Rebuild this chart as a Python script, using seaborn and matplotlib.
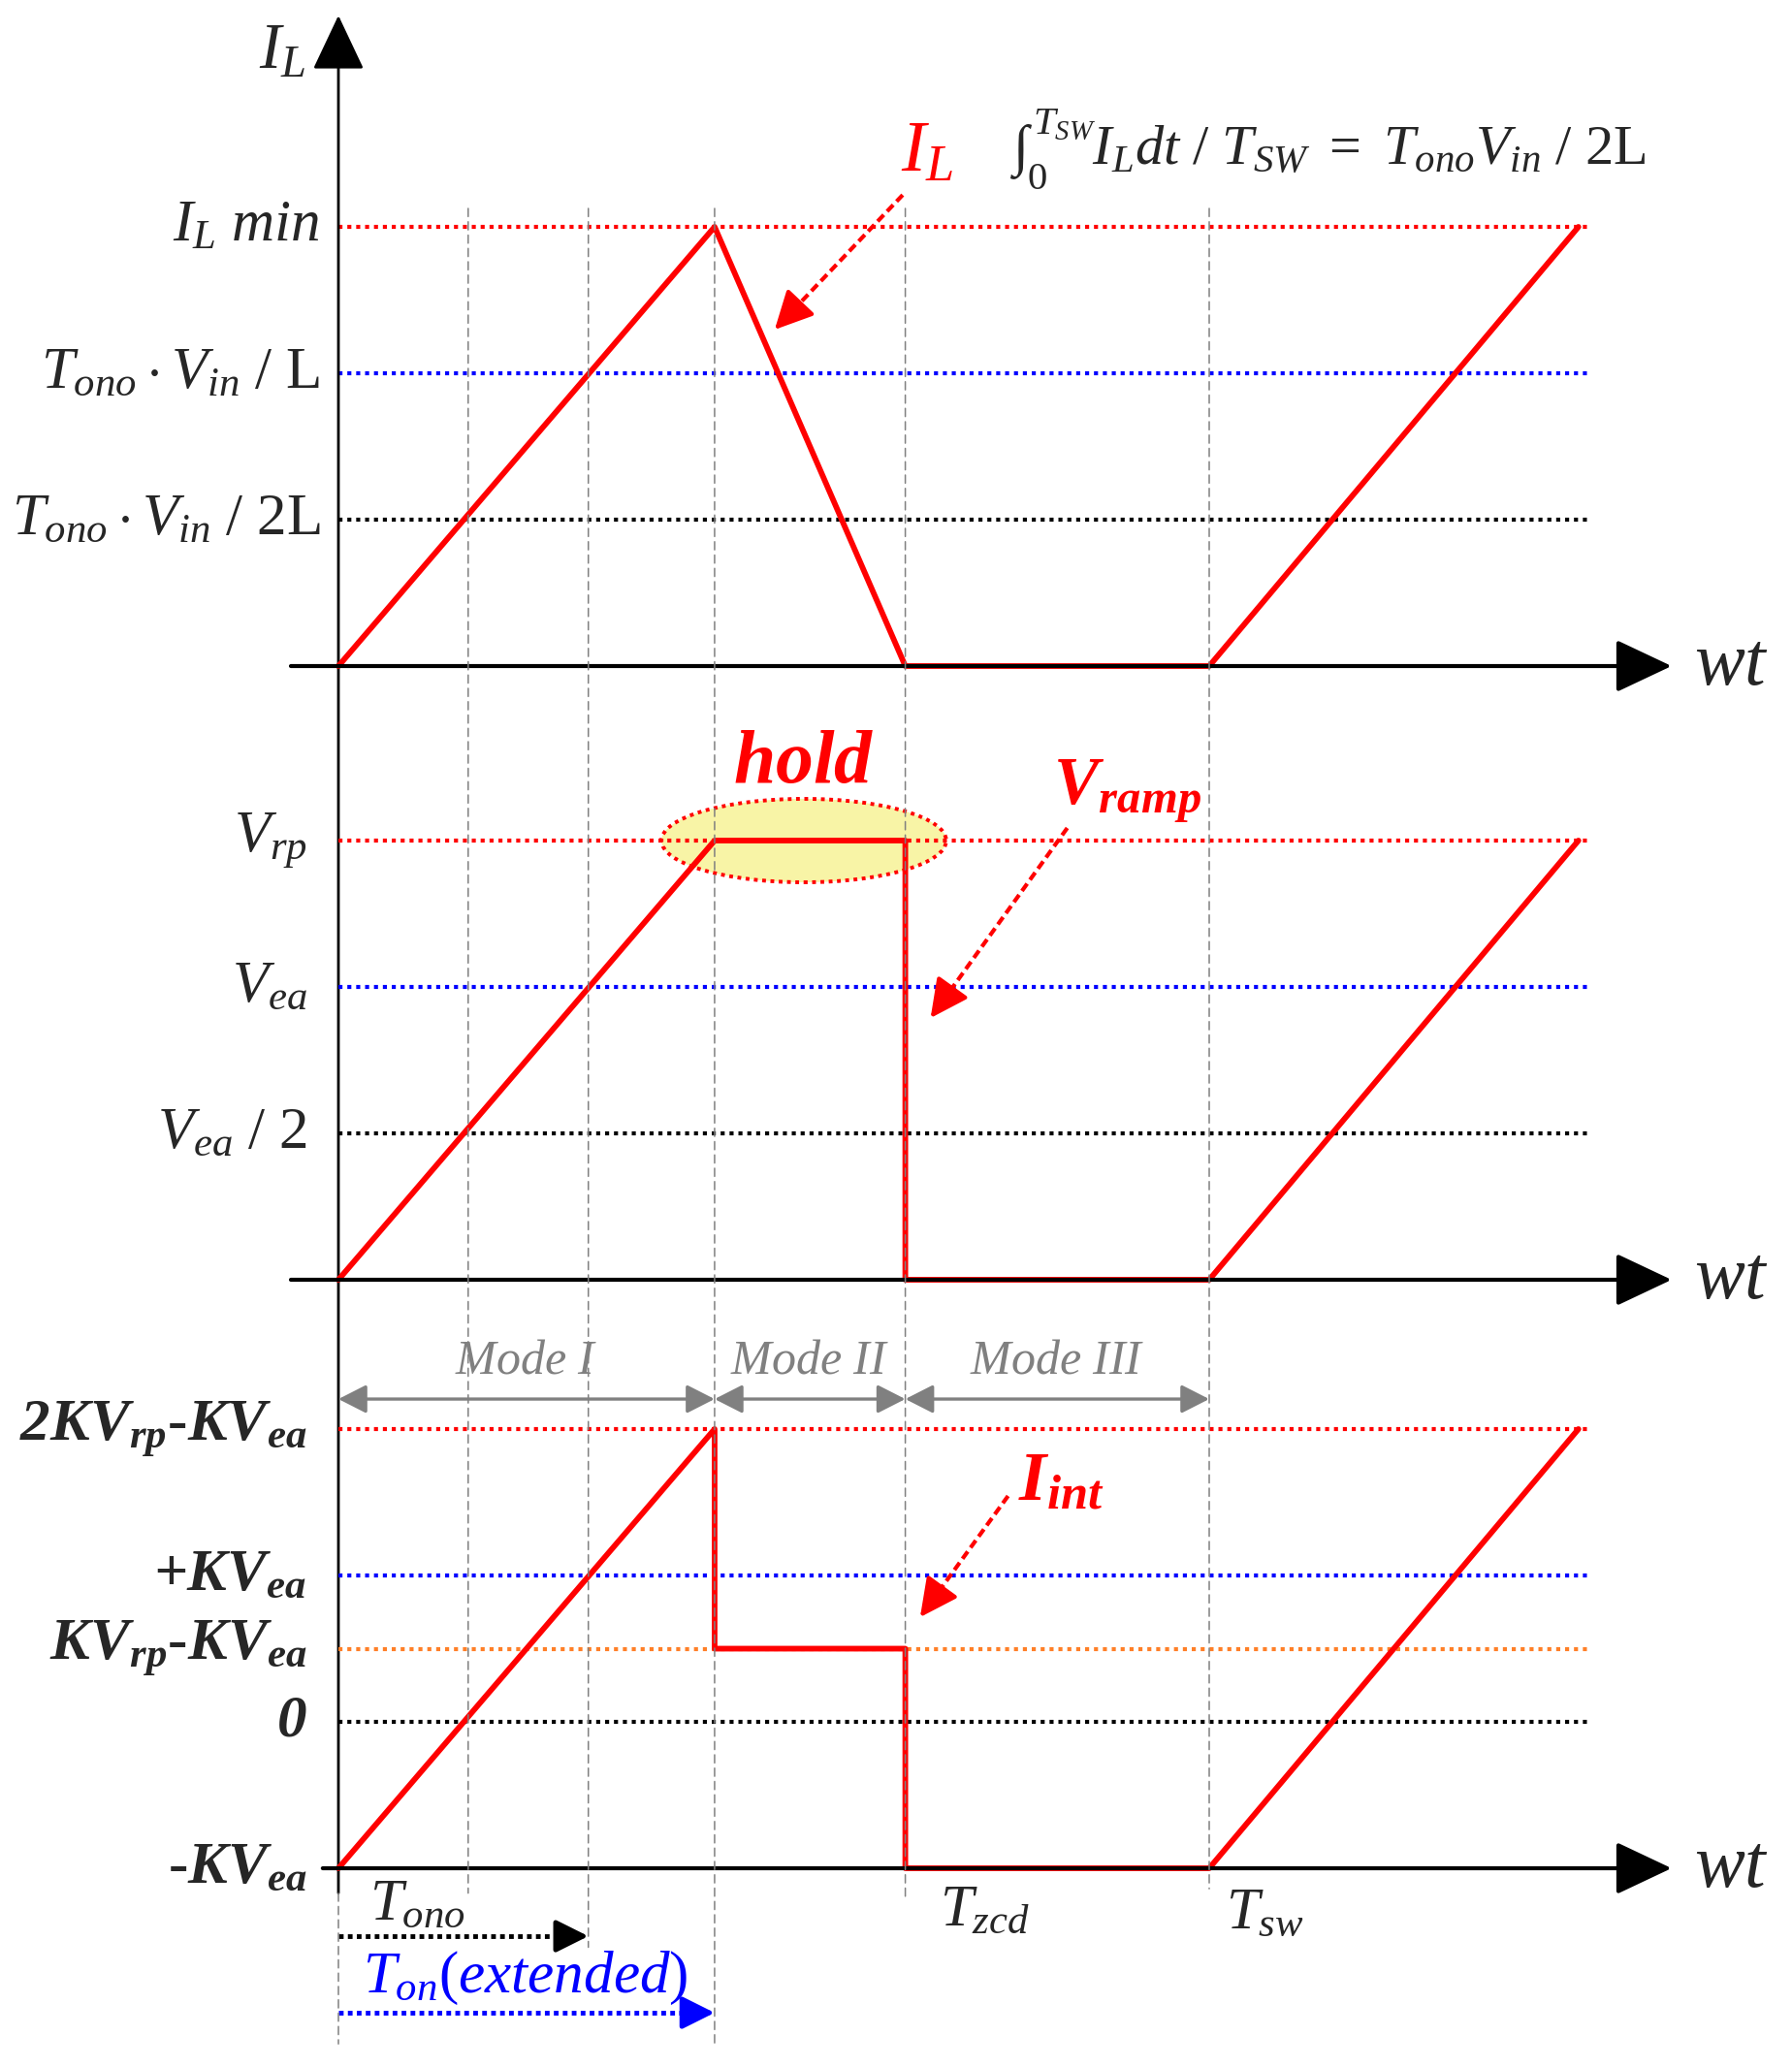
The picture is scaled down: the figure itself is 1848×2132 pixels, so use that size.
import matplotlib
matplotlib.use('Agg')
import matplotlib.pyplot as plt
from matplotlib.patches import Ellipse, ConnectionPatch
import seaborn as sns

# ---- values, time normalised so that T_sw = 1 ----
T_HALF = 0.149   # T_ono / 2
T_ONO = 0.287
T_EXT = 0.432    # extended on time
T_ZCD = 0.651
T_SW = 1.0
T_END = 1.424
T_LINE = 1.434   # dotted level lines stop here

# inductor current, units of T_ono*Vin/L
il_t = [0, T_EXT, T_ZCD, T_SW, T_END]
il_v = [0, 1.5, 0, 0, 1.5]
il_levels = [1.5, 1.0, 0.5]
il_names = [r'$I_{L}\ min$', r'$T_{ono}\cdot V_{in}\ /\ \mathrm{L}$',
            r'$T_{ono}\cdot V_{in}\ /\ \mathrm{2L}$']

# ramp voltage, units of Vea
vr_t = [0, T_EXT, T_ZCD, T_ZCD, T_SW, T_END]
vr_v = [0, 1.5, 1.5, 0, 0, 1.5]
vr_levels = [1.5, 1.0, 0.5]
vr_names = [r'$V_{rp}$', r'$V_{ea}$', r'$V_{ea}\ /\ \mathrm{2}$']

# integrator current, units of K*Vea
ii_t = [0, T_EXT, T_EXT, T_ZCD, T_ZCD, T_SW, T_END]
ii_v = [-1, 2, 0.5, 0.5, -1, -1, 2]
ii_levels = [2.0, 1.0, 0.5, 0.0, -1.0]
ii_names = [r'$\mathbfit{2KV_{rp}}$-$\mathbfit{KV_{ea}}$', r'$\mathbfit{+KV_{ea}}$',
            r'$\mathbfit{KV_{rp}}$-$\mathbfit{KV_{ea}}$', r'$\mathbfit{0}$',
            r'-$\mathbfit{KV_{ea}}$']

modes = ['Mode I', 'Mode II', 'Mode III']
mode_edges = [0, T_EXT, T_ZCD, T_SW]

RED, BLUE, ORANGE, GRAY = '#ff0000', '#0000ff', '#ff7f27', '#808080'
level_colors = [RED, BLUE, 'black']
ii_colors = [RED, BLUE, ORANGE, 'black']

sns.set_style('white')
plt.rcParams['font.family'] = ['Liberation Serif', 'DejaVu Serif']
plt.rcParams['mathtext.fontset'] = 'custom'
plt.rcParams['mathtext.rm'] = 'Liberation Serif'
plt.rcParams['mathtext.it'] = 'Liberation Serif:italic'
plt.rcParams['mathtext.bf'] = 'Liberation Serif:bold'
plt.rcParams['mathtext.bfit'] = 'Liberation Serif:italic:bold'

# ---- layout: every panel axes spans the whole figure ----
W, H = 1849, 2132
X0_PX, PX_PER_T = 349, 898
panels = [(687, 302, 0.0), (1320, 302, 0.0), (1927, 151, -1.0)]

fig = plt.figure(figsize=(W / 100, H / 100), dpi=100)
axes = []
for base, scale, v0 in panels:
    ax = fig.add_axes([0, 0, 1, 1])
    ax.set_xlim(-X0_PX / PX_PER_T, (W - X0_PX) / PX_PER_T)
    ax.set_ylim(v0 + (base - H) / scale, v0 + base / scale)
    ax.axis('off')
    ax.patch.set_alpha(0)
    axes.append(ax)
ax1, ax2, ax3 = axes

DOT = (0, (1, 1.2))
AX_HEAD = '-|>,head_length=0.36,head_width=0.17'
WAVE_LW = 4.2


def level_lines(ax, levels, colors):
    for lv, c in zip(levels, colors):
        ax.hlines(lv, 0, T_LINE, colors=c, lw=3, linestyles=DOT, zorder=2)


def time_axis(ax, y, x_start):
    ax.annotate('', xy=(1.531, y), xytext=(x_start, y),
                arrowprops=dict(arrowstyle=AX_HEAD, mutation_scale=100, lw=3,
                                color='black', shrinkA=0, shrinkB=0), zorder=4)
    ax.text(1.6, y, r'$wt$', fontsize=56, ha='center', va='center')


def level_labels(ax, levels, names, x, size=44):
    for lv, nm in zip(levels, names):
        ax.text(x, lv, nm, fontsize=size, ha='right', va='center')


def broken_arrow(ax, tail, tip, color, ls, lw, frac, scale=40):
    # dashed/dotted shaft with a solid filled head
    mid = (tip[0] - frac * (tip[0] - tail[0]), tip[1] - frac * (tip[1] - tail[1]))
    ax.plot([tail[0], mid[0]], [tail[1], mid[1]], color=color, lw=lw, ls=ls,
            solid_capstyle='butt')
    ax.annotate('', xy=tip, xytext=mid,
                arrowprops=dict(arrowstyle='-|>,head_length=0.6,head_width=0.3',
                                mutation_scale=scale, lw=lw, color=color,
                                shrinkA=0, shrinkB=0))


def pointer(ax, text, tip, tail, text_xy, size):
    broken_arrow(ax, tail, tip, RED, (0, (2.2, 1.2)), 3, 0.12)
    ax.text(*text_xy, text, fontsize=size, color=RED, ha='center', va='center')


# vertical time markers across all panels
marker_t = [T_HALF, T_ONO, T_EXT, T_ZCD, T_SW]
marker_bottom = [-1.17, -1.54, -2.2, -1.2, -1.14]
for t, yb in zip(marker_t, marker_bottom):
    fig.add_artist(ConnectionPatch(xyA=(t, 1.563), coordsA=ax1.transData,
                                   xyB=(t, yb), coordsB=ax3.transData,
                                   color=GRAY, lw=1.1, ls=(0, (5.5, 3.5)), zorder=1))
fig.add_artist(ConnectionPatch(xyA=(0, -1.17), coordsA=ax3.transData,
                               xyB=(0, -2.2), coordsB=ax3.transData,
                               color=GRAY, lw=1.1, ls=(0, (5.5, 3.5)), zorder=1))

# vertical axis with arrow
ax1.annotate('', xy=(0, 2.222), xytext=(0, -1.17), textcoords=ax3.transData,
             arrowprops=dict(arrowstyle=AX_HEAD, mutation_scale=100, lw=2,
                             color='black', shrinkA=0, shrinkB=0))
ax1.text(-0.038, 2.096, r'$I_{L}$', fontsize=48, ha='right', va='center')

# ---- panel 1: inductor current ----
level_lines(ax1, il_levels, level_colors)
sns.lineplot(x=il_t, y=il_v, ax=ax1, color=RED, lw=WAVE_LW, sort=False,
             estimator=None, zorder=3)
time_axis(ax1, 0, -0.0546)
level_labels(ax1, il_levels, il_names, -0.021)
pointer(ax1, r'$I_{L}$', (0.501, 1.149), (0.648, 1.609), (0.676, 1.748), 54)
ax1.text(0.771, 1.765,
         r'$\int_{0}^{T_{SW}} I_{L}dt\ /\ T_{SW}\ \mathrm{=}\ T_{ono}V_{in}\ /\ \mathrm{2L}$',
         fontsize=42, ha='left', va='center')

# ---- panel 2: ramp voltage ----
ax2.add_patch(Ellipse(((T_EXT + T_ZCD) / 2 - 0.007, 1.5), 0.327, 0.285,
                      facecolor='#f8f4a6', edgecolor=RED, lw=2.8, ls=DOT, zorder=1))
level_lines(ax2, vr_levels, level_colors)
sns.lineplot(x=vr_t, y=vr_v, ax=ax2, color=RED, lw=WAVE_LW, sort=False,
             estimator=None, zorder=3)
time_axis(ax2, 0, -0.0546)
level_labels(ax2, vr_levels, vr_names, -0.036)
ax2.text(0.5345, 1.76, r'$\mathbfit{hold}$', fontsize=56, color=RED,
         ha='center', va='center')
pointer(ax2, r'$\mathbfit{V_{ramp}}$', (0.68, 0.894), (0.837, 1.543), (0.906, 1.669), 50)

# ---- panel 3: integrator current ----
level_lines(ax3, ii_levels[:4], ii_colors)
sns.lineplot(x=ii_t, y=ii_v, ax=ax3, color=RED, lw=WAVE_LW, sort=False,
             estimator=None, zorder=3)
time_axis(ax3, -1, -0.018)
level_labels(ax3, ii_levels, ii_names, -0.036)
pointer(ax3, r'$\mathbfit{I_{int}}$', (0.668, 0.715), (0.769, 1.543), (0.83, 1.63), 52)

for name, a, b in zip(modes, mode_edges[:-1], mode_edges[1:]):
    ax3.annotate('', xy=(b, 2.205), xytext=(a, 2.205),
                 arrowprops=dict(arrowstyle='<|-|>,head_length=0.55,head_width=0.28',
                                 mutation_scale=32, lw=2.4, color=GRAY,
                                 shrinkA=0, shrinkB=0))
    ax3.text((a + b) / 2, 2.464, r'$%s$' % name.replace(' ', r'\ '),
             fontsize=36, color=GRAY, ha='center', va='center')

# on-time arrows below the last axis
broken_arrow(ax3, (0, -1.464), (T_ONO, -1.464), 'black', (0, (1, 0.9)), 3.5, 0.1, 34)
broken_arrow(ax3, (0, -1.987), (T_EXT, -1.987), BLUE, (0, (1, 0.9)), 3.5, 0.065, 34)
ax3.text(0.036, -1.25, r'$T_{ono}$', fontsize=44, ha='left', va='center')
ax3.text(0.028, -1.748, r'$T_{on}(extended)$', fontsize=44, color=BLUE,
         ha='left', va='center')
ax3.text(0.69, -1.29, r'$T_{zcd}$', fontsize=44, ha='left', va='center')
ax3.text(1.019, -1.31, r'$T_{sw}$', fontsize=44, ha='left', va='center')

fig.savefig('out.png', dpi=100, facecolor='white')
